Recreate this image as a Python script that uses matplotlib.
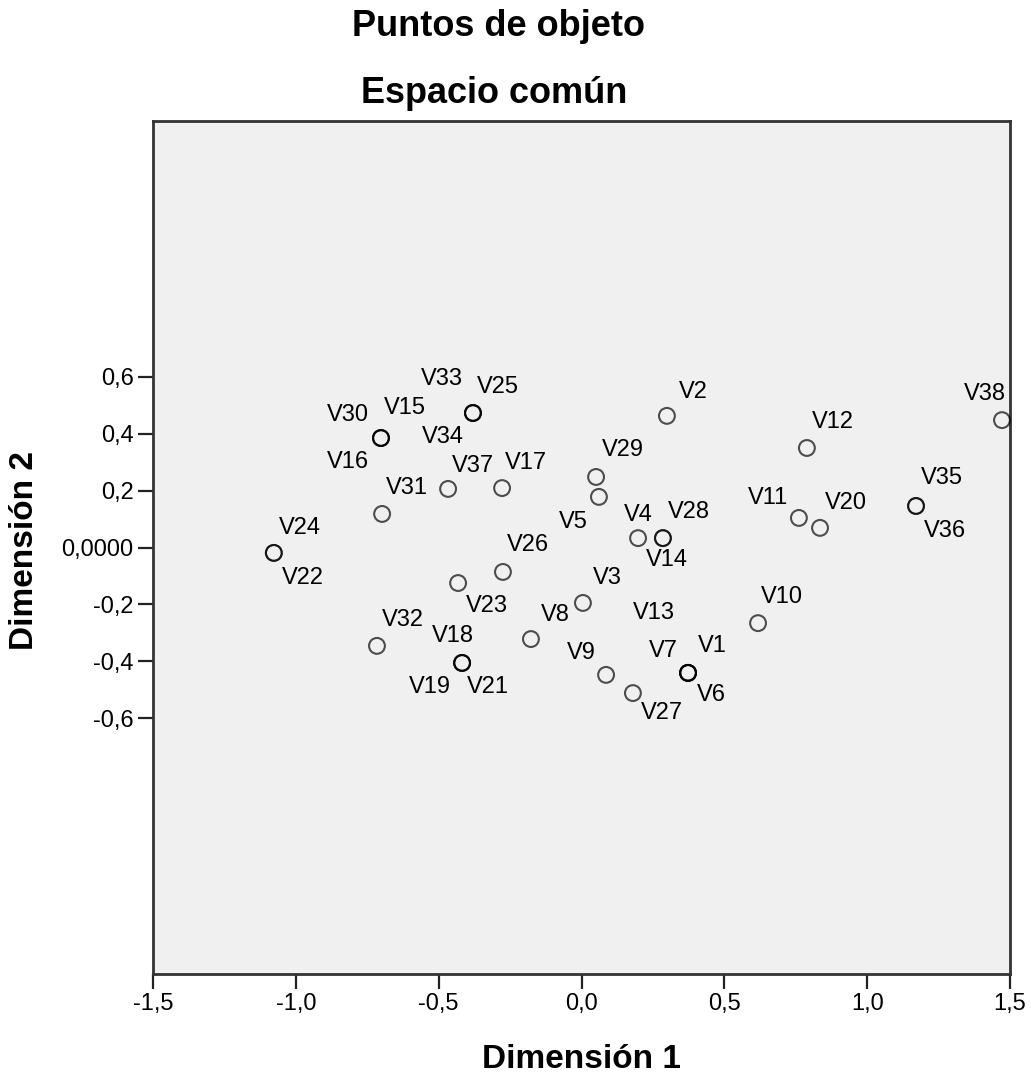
import matplotlib
matplotlib.use("Agg")
import matplotlib.pyplot as plt

# object points (dimension 1, dimension 2)
labels = ["V1", "V2", "V3", "V4", "V5", "V6", "V7", "V8", "V9", "V10",
          "V11", "V12", "V13", "V14", "V15", "V16", "V17", "V18", "V19", "V20",
          "V21", "V22", "V23", "V24", "V25", "V26", "V27", "V28", "V29", "V30",
          "V31", "V32", "V33", "V34", "V35", "V36", "V37", "V38"]
dim1 = [0.373, 0.299, 0.005, 0.198, 0.061, 0.373, 0.373, -0.177, 0.086, 0.618,
        0.761, 0.789, 0.373, 0.285, -0.702, -0.702, -0.278, -0.418, -0.418, 0.835,
        -0.418, -1.077, -0.432, -1.077, -0.380, -0.275, 0.180, 0.285, 0.051, -0.702,
        -0.698, -0.716, -0.380, -0.380, 1.171, 1.171, -0.467, 1.472]
dim2 = [-0.441, 0.463, -0.195, 0.033, 0.178, -0.441, -0.441, -0.322, -0.448, -0.266,
        0.104, 0.350, -0.441, 0.033, 0.385, 0.385, 0.209, -0.406, -0.406, 0.069,
        -0.406, -0.019, -0.125, -0.019, 0.473, -0.086, -0.512, 0.033, 0.248, 0.385,
        0.118, -0.346, 0.473, 0.473, 0.146, 0.146, 0.206, 0.448]

xticks = [-1.5, -1.0, -0.5, 0.0, 0.5, 1.0, 1.5]
xticklabels = ["-1,5", "-1,0", "-0,5", "0,0", "0,5", "1,0", "1,5"]
yticks = [-0.6, -0.4, -0.2, 0.0, 0.2, 0.4, 0.6]
yticklabels = ["-0,6", "-0,4", "-0,2", "0,0000", "0,2", "0,4", "0,6"]

# label placement in pixels (right, down) from each point
label_offsets = {
    "V1": (24, -27), "V2": (26, -24), "V3": (24, -25), "V4": (0, -23),
    "V5": (-26, 25), "V6": (23, 22), "V7": (-25, -22), "V8": (24, -24),
    "V9": (-25, -22), "V10": (24, -26), "V11": (-31, -20), "V12": (26, -26),
    "V13": (-34, -60), "V14": (4, 22), "V15": (24, -30), "V16": (-33, 24),
    "V17": (24, -25), "V18": (-9, -27), "V19": (-32, 24), "V20": (26, -25),
    "V21": (26, 24), "V22": (29, 25), "V23": (29, 23), "V24": (26, -25),
    "V25": (25, -26), "V26": (25, -27), "V27": (29, 20), "V28": (26, -26),
    "V29": (27, -27), "V30": (-33, -23), "V31": (25, -26), "V32": (26, -26),
    "V33": (-31, -34), "V34": (-30, 24), "V35": (26, -28), "V36": (29, 25),
    "V37": (25, -23), "V38": (-17, -26),
}

plt.rcParams["font.family"] = ["Liberation Sans", "DejaVu Sans"]

W, H = 1031, 1076
fig = plt.figure(figsize=(W / 100, H / 100), dpi=100)
ax = fig.add_axes([153 / W, 1 - 974 / H, (1010 - 153) / W, (974 - 121) / H])
ax.set_facecolor("#f0f0f0")

ax.scatter(dim1, dim2, s=130, facecolors="none", edgecolors=(0, 0, 0, 0.68),
           linewidths=1.5, zorder=3, clip_on=False)

for name, x, y in zip(labels, dim1, dim2):
    dx, dy = label_offsets[name]
    ax.annotate(name, (x, y), xytext=(dx, -dy), textcoords="offset pixels",
                ha="center", va="center", fontsize=17, color="black")

ax.set_xlim(-1.5, 1.5)
ax.set_ylim(-1.5, 1.5)
ax.set_xticks(xticks)
ax.set_xticklabels(xticklabels)
ax.set_yticks(yticks)
ax.set_yticklabels(yticklabels)
ax.tick_params(direction="out", length=11, width=1.6, color="#222222",
               labelsize=17, pad=3)

for sp in ax.spines.values():
    sp.set_linewidth(2)
    sp.set_color("#333333")

fig.text(499 / W, 1 - 36 / H, "Puntos de objeto", ha="center", va="baseline",
         fontsize=26, fontweight="bold")
fig.text(494 / W, 1 - 103 / H, "Espacio común", ha="center", va="baseline",
         fontsize=26, fontweight="bold")
fig.text(581 / W, 1 - 1068 / H, "Dimensión 1", ha="center", va="baseline",
         fontsize=24, fontweight="bold")
fig.text(25 / W, 1 - 550 / H, "Dimensión 2", ha="center", va="center",
         rotation=90, fontsize=24, fontweight="bold")

fig.savefig("out.png", dpi=100, facecolor="white")
